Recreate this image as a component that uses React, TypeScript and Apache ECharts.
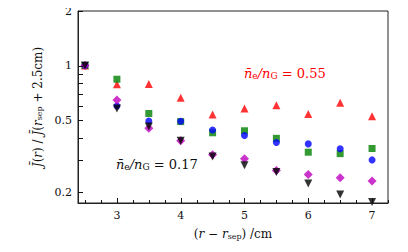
import React, { useEffect, useRef } from "react";
import * as echarts from "echarts";

const xValues = [2.5, 3, 3.5, 4, 4.5, 5, 5.5, 6, 6.5, 7];
const redHigh = [1.0, 0.788, 0.79, 0.663, 0.536, 0.579, 0.604, 0.54, 0.622, 0.525];
const greenSq = [1.0, 0.84, 0.543, 0.49, 0.425, 0.436, 0.396, 0.332, 0.326, 0.348];
const blueCirc = [1.0, 0.598, 0.494, 0.492, 0.44, 0.411, 0.376, 0.369, 0.347, 0.301];
const magentaLow = [1.0, 0.644, 0.45, 0.384, 0.321, 0.305, 0.263, 0.25, 0.24, 0.23];
const blackLow = [1.0, 0.579, 0.461, 0.384, 0.314, 0.281, 0.258, 0.223, 0.194, 0.176];

const xMajorTicks = [3, 4, 5, 6, 7];
const xMinorTicks = [2.5, 2.75, 3.25, 3.5, 3.75, 4.25, 4.5, 4.75, 5.25, 5.5, 5.75, 6.25, 6.5, 6.75, 7.25];
const yTicks = [0.2, 0.3, 0.4, 0.5, 0.6, 0.7, 0.8, 0.9, 1, 2];
const yLabels = [0.2, 0.5, 1, 2];

const FONT = "DejaVu Serif";
const AX = "#222";
const X_MIN = 2.39;
const X_MAX = 7.25;
const Y_MIN = 0.174;
const Y_MAX = 2;

const pairs = (ys: number[]) => xValues.map((x, i) => [x, ys[i]]);

export default function App() {
  const ref = useRef<HTMLDivElement>(null);
  useEffect(() => {
    if (!ref.current) return;
    const chart = echarts.init(ref.current, undefined, { renderer: "svg" });
    const mathRich = (size: number) => ({
      i: { fontFamily: FONT, fontStyle: "italic", fontSize: size, lineHeight: size + 4, verticalAlign: "bottom" },
      n: { fontFamily: FONT, fontSize: size, lineHeight: size + 4, verticalAlign: "bottom" },
      s: { fontFamily: FONT, fontSize: Math.round(size * 0.68), lineHeight: size, verticalAlign: "bottom" },
    });
    const mkRich = (color: string, size: number, key: string) => {
      const base: any = mathRich(size);
      const r: any = {};
      Object.keys(base).forEach((k) => {
        r[k] = { ...base[k], [key]: color };
      });
      return r;
    };
    const scatter = (name: string, ys: number[], color: string, symbol: string, size: number, rotate = 0) => ({
      type: "scatter",
      name,
      data: pairs(ys),
      symbol,
      symbolSize: size,
      symbolRotate: rotate,
      itemStyle: { color },
      clip: false,
      z: 5,
    });
    const texts: any[] = [
      {
        type: "text",
        left: 244,
        top: 67,
        style: {
          text: "{i|n̄}{s|e}{i|/n}{s|G}{n| = 0.55}",
          rich: mkRich("#ff0000", 13, "fill"),
        },
      },
      {
        type: "text",
        left: 116,
        top: 158,
        style: {
          text: "{i|n̄}{s|e}{i|/n}{s|G}{n| = 0.17}",
          rich: mkRich("#111", 13, "fill"),
        },
      },
    ];
    chart.setOption({
      animation: false,
      grid: { left: 78, right: 20, top: 11, bottom: 49, show: true, borderColor: AX, borderWidth: 1, backgroundColor: "transparent" },
      xAxis: {
        type: "value",
        min: X_MIN,
        max: X_MAX,
        z: 10,
        axisLine: { show: true, lineStyle: { color: AX } },
        splitLine: { show: false },
        axisTick: { show: false },
        axisLabel: { customValues: xMajorTicks, color: "#111", fontFamily: FONT, fontSize: 11, margin: 7 },
        name: "{n|(}{i|r}{n| − }{i|r}{s|sep}{n|) /cm}",
        nameLocation: "middle",
        nameGap: 21,
        nameTextStyle: { rich: mkRich("#111", 12, "color") },
      },
      yAxis: {
        type: "log",
        logBase: 10,
        min: Y_MIN,
        max: Y_MAX,
        z: 10,
        axisLine: { show: true, lineStyle: { color: AX } },
        splitLine: { show: false },
        minorTick: { show: false },
        axisTick: { show: false },
        axisLabel: { customValues: yLabels, color: "#111", fontFamily: FONT, fontSize: 11, margin: 6 },
        name: "{i|J̄}{n|(}{i|r}{n|) / }{i|J̄}{n|(}{i|r}{s|sep}{n| + 2.5cm)}",
        nameLocation: "middle",
        nameGap: 34,
        nameRotate: 90,
        nameTextStyle: { rich: mkRich("#111", 12, "color") },
      },
      series: [
        scatter("red", redHigh, "#ff0000", "triangle", 8),
        scatter("green", greenSq, "#008000", "rect", 7),
        scatter("blue", blueCirc, "#0000ff", "circle", 7),
        scatter("magenta", magentaLow, "#bf00bf", "diamond", 9),
        scatter("black", blackLow, "#000000", "triangle", 8, 180),
      ],
      graphic: texts,
    });

    // Tick marks positioned through the axes' own scales
    const bottomY = Math.round(chart.convertToPixel({ yAxisIndex: 0 }, Y_MIN) as number);
    const leftX = Math.round(chart.convertToPixel({ xAxisIndex: 0 }, X_MIN) as number);
    const crisp = (v: number) => Math.round(v) + 0.5;
    const ticks: any[] = [];
    const TK = "#111";
    const addX = (v: number, len: number) => {
      const px = crisp(chart.convertToPixel({ xAxisIndex: 0 }, v) as number);
      ticks.push({
        type: "line",
        z: 20,
        silent: true,
        shape: { x1: px, y1: bottomY, x2: px, y2: bottomY - len },
        style: { stroke: TK, lineWidth: 1 },
      });
    };
    xMajorTicks.forEach((v) => addX(v, 5));
    xMinorTicks.forEach((v) => addX(v, 3));
    yTicks.forEach((v) => {
      const py = crisp(chart.convertToPixel({ yAxisIndex: 0 }, v) as number);
      ticks.push({
        type: "line",
        z: 20,
        silent: true,
        shape: { x1: leftX, y1: py, x2: leftX + 5, y2: py },
        style: { stroke: TK, lineWidth: 1 },
      });
    });
    chart.setOption({ graphic: [...texts, ...ticks] });
    return () => chart.dispose();
  }, []);
  return <div ref={ref} style={{ width: 408, height: 252, margin: -8 }} />;
}
